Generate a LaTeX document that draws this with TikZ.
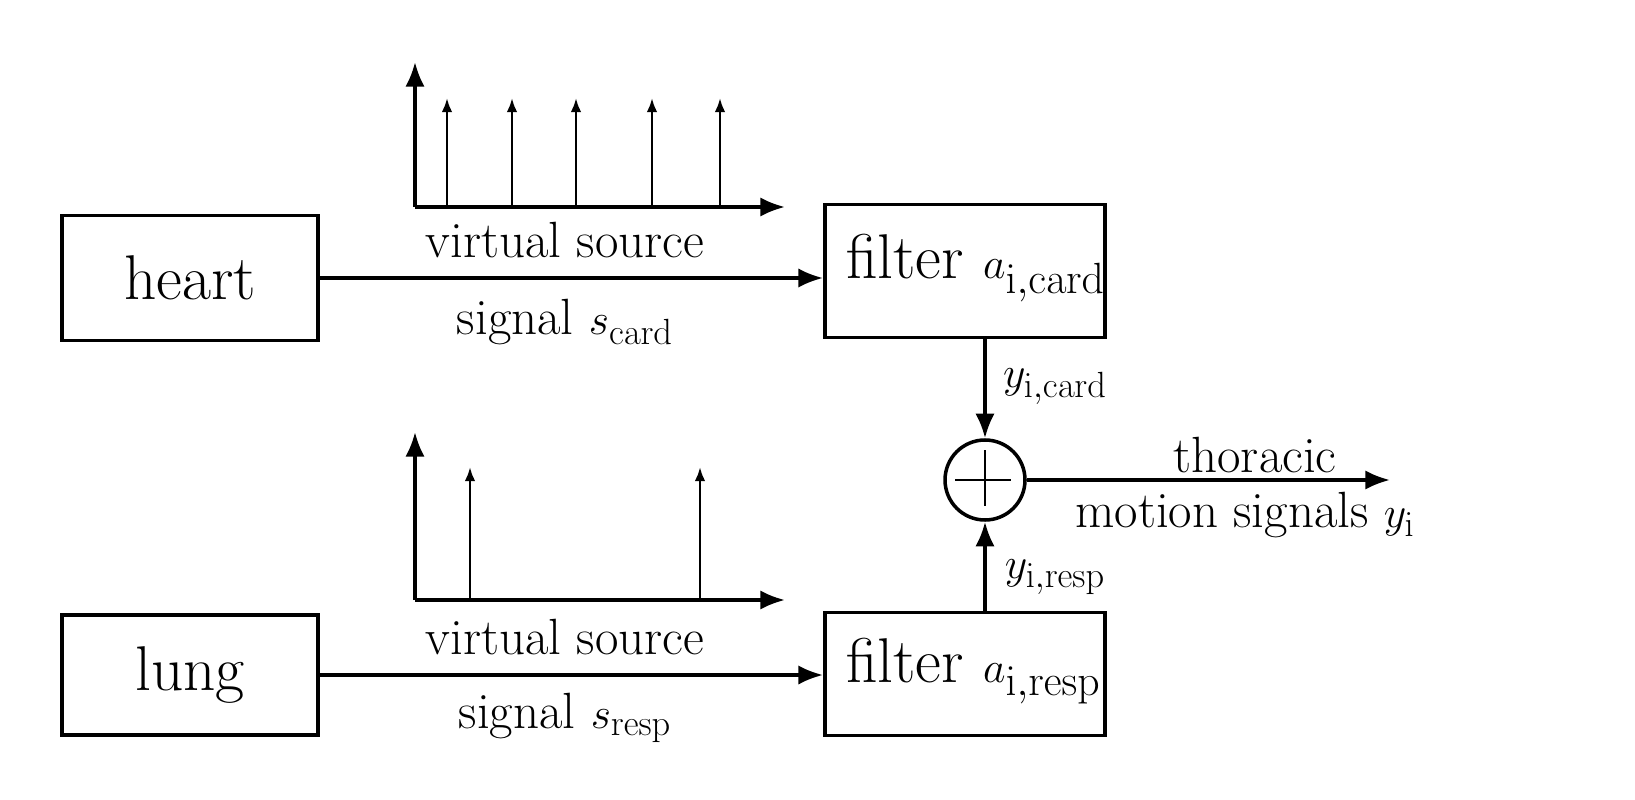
\documentclass[tikz,border=0pt]{standalone}
\usetikzlibrary{arrows.meta}
\begin{document}
\begin{tikzpicture}[x=0.02cm,y=-0.02cm,
  blk/.style={draw,line width=2.2pt,inner sep=0pt},
  arr/.style={line width=2pt,-{Latex[length=14pt,width=11pt]}},
  spk/.style={line width=1.5pt,-{Latex[length=8pt,width=6pt]}},
  big/.style={font=\fontsize{36}{40}\selectfont},
  lab/.style={font=\fontsize{29}{34}\selectfont}]
\useasboundingbox (0,0) rectangle (1635,800);
% boxes
\node[blk,minimum width=256*0.02cm,minimum height=125*0.02cm,big] (heart) at (190,278) {heart};
\node[blk,minimum width=280*0.02cm,minimum height=133*0.02cm] (fc) at (965,271) {};
\node[big,anchor=west] (fct) at (840,268) {filter $a_{\mathrm{i,card}}$};
\node[blk,minimum width=256*0.02cm,minimum height=120*0.02cm,big] (lung) at (190,675) {lung};
\node[blk,minimum width=280*0.02cm,minimum height=123*0.02cm] (fr) at (965,674) {};
\node[big,anchor=west] (frt) at (840,671) {filter $a_{\mathrm{i,resp}}$};
\node[draw,circle,line width=2pt,minimum size=80*0.02cm] (sum) at (985,480) {};
\draw[line width=1pt] (sum.north) ++(0,12) -- ++(0,56) (sum.west) ++(12,0) -- ++(56,0);
\coordinate (fcb) at (985,338);
\coordinate (frt2) at (985,612);
\coordinate (out) at (1390,480);
% connectors
\draw[arr] (heart.east) -- (heart.east -| fc.west);
\draw[arr] (lung.east) -- (lung.east -| fr.west);
\draw[arr] (fcb) -- (sum.north);
\draw[arr] (frt2) -- (sum.south);
\draw[arr] (sum.east) -- (out);
% labels
\node[lab] (v1) at (565,240) {virtual source};
\node[lab] (s1) at (565,322) {signal $s_{\mathrm{card}}$};
\node[lab] (v2) at (565,637) {virtual source};
\node[lab] (s2) at (565,718) {signal $s_{\mathrm{resp}}$};
\node[lab] (yc) at (1055,387) {$y_{\mathrm{i,card}}$};
\node[lab] (yr) at (1055,577) {$y_{\mathrm{i,resp}}$};
\node[lab] (th) at (1255,455) {thoracic};
\node[lab] (mo) at (1245,515) {motion signals $y_{\mathrm{i}}$};
% plot 1
\coordinate (o1) at (415,207);
\draw[arr] (o1) -- (415,62);
\draw[arr] (o1) -- (785,207);
\foreach \x in {447,512,576,652,720} \draw[spk] (\x,207) -- (\x,98);
% plot 2
\coordinate (o2) at (415,600);
\draw[arr] (o2) -- (415,432);
\draw[arr] (o2) -- (785,600);
\foreach \x in {470,700} \draw[spk] (\x,600) -- (\x,467);
\end{tikzpicture}
\end{document}
